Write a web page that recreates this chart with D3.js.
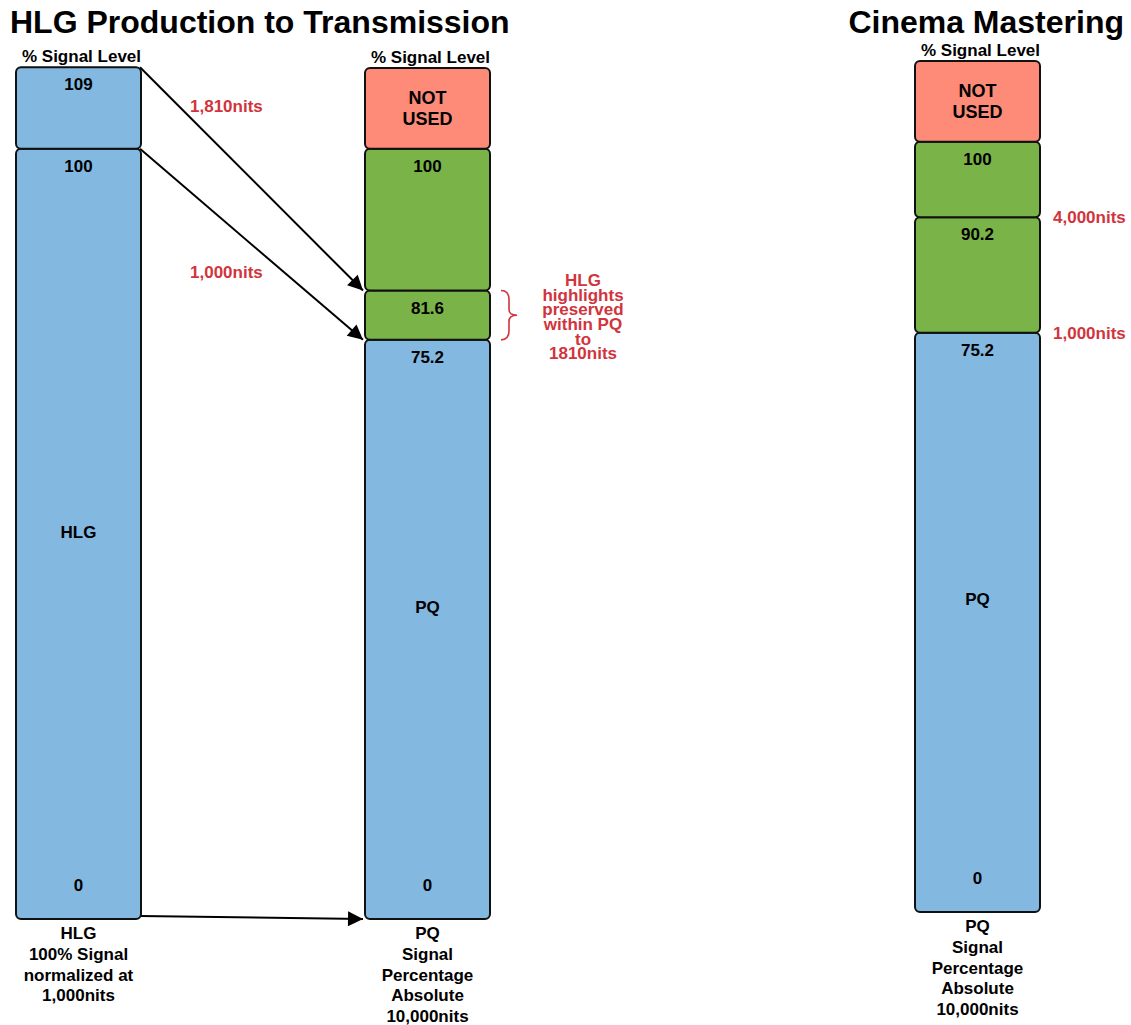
<!DOCTYPE html>
<html>
<head>
<meta charset="utf-8">
<script src="https://cdn.jsdelivr.net/npm/d3@7"></script>
<style>
  html, body { margin: 0; padding: 0; background: #fff; }
  svg { display: block; font-family: "Liberation Sans", Arial, sans-serif; font-weight: bold; }
</style>
</head>
<body>
<svg id="chart" width="1131" height="1025"></svg>
<script>
// ---------------- DATA ----------------
const titles = ["HLG Production to Transmission", "Cinema Mastering"];
const axisTitle = "% Signal Level";

// HLG column (segment edges in % signal; top edge is the box's upper limit)
const hlgEdges = [0, 100, 110.6];
const hlgTopLabels = ["100", "109"];
const hlgKinds = ["used", "used"];
const hlgName = "HLG";
const hlgNameLevel = 50.3;
const hlgFooter = ["HLG", "100% Signal", "normalized at", "1,000nits"];

// PQ transmission column
const pqEdges = [0, 75.2, 81.6, 100, 110.5];
const pqTopLabels = ["75.2", "81.6", "100", "NOT\nUSED"];
const pqKinds = ["used", "extra", "extra", "unused"];
const pqName = "PQ";
const pqNameLevel = 40.5;
const pqFooter = ["PQ", "Signal", "Percentage", "Absolute", "10,000nits"];

// Cinema mastering column
const cinemaEdges = [0, 75.2, 90.2, 100, 110.5];
const cinemaTopLabels = ["75.2", "90.2", "100", "NOT\nUSED"];
const cinemaKinds = ["used", "extra", "extra", "unused"];
const cinemaName = "PQ";
const cinemaNameLevel = 40.6;
const cinemaFooter = ["PQ", "Signal", "Percentage", "Absolute", "10,000nits"];

// Mapping arrows HLG -> PQ (from HLG level edge to PQ level)
const arrowFrom = [110.6, 100, 0];
const arrowTo = [81.6, 75.2, 0];
const arrowNotes = ["1,810nits", "1,000nits", ""];
const arrowNoteLevels = [105.6, 84.0, null];

// Annotation brace on PQ column
const braceRange = [75.2, 81.6];
const braceText = ["HLG", "highlights", "preserved", "within PQ", "to", "1810nits"];

// Cinema annotations
const cinemaNotes = ["4,000nits", "1,000nits"];
const cinemaNoteLevels = [90.2, 75.2];

// ---------------- LAYOUT / STYLE ----------------
const colW = 125;
const fs = 17;
const fills = { used: "#83b8e0", extra: "#7ab347", unused: "#fe8a78" };
const red = "#d1343c";
const svg = d3.select("#chart");

const yA = d3.scaleLinear().domain([0, 110.5]).range([919, 68]);
const yC = d3.scaleLinear().domain([0, 110.5]).range([912, 61]);

const defs = svg.append("defs");
defs.append("marker")
  .attr("id", "arrowhead")
  .attr("viewBox", "0 0 10 10")
  .attr("refX", 10).attr("refY", 5)
  .attr("markerWidth", 8.5).attr("markerHeight", 7.5)
  .attr("markerUnits", "strokeWidth")
  .attr("orient", "auto")
  .append("path").attr("d", "M0,0 L10,5 L0,10 Z").attr("fill", "#000");

function drawColumn(x0, y, edges, labels, kinds, name, nameLevel, footer) {
  const g = svg.append("g");
  const segs = labels.map((l, i) => ({ lo: edges[i], hi: edges[i + 1], label: l, kind: kinds[i] }));
  g.selectAll("rect.seg").data(segs).enter().append("rect")
    .attr("class", "seg")
    .attr("x", x0).attr("width", colW)
    .attr("y", d => y(d.hi))
    .attr("height", d => y(d.lo) - y(d.hi))
    .attr("rx", 5).attr("ry", 5)
    .attr("fill", d => fills[d.kind])
    .attr("stroke", "#111").attr("stroke-width", 2);

  const cx = x0 + colW / 2;
  segs.forEach(d => {
    const lines = d.label.split("\n");
    if (lines.length > 1) {
      const mid = (y(d.hi) + y(d.lo)) / 2;
      lines.forEach((t, k) => {
        g.append("text").attr("x", cx).attr("y", mid + (k - (lines.length - 1) / 2) * 20.5)
          .attr("dy", "0.35em").attr("text-anchor", "middle")
          .attr("font-size", 18).attr("fill", "#000").text(t);
      });
    } else {
      g.append("text").attr("x", cx).attr("y", y(d.hi) + 17)
        .attr("dy", "0.35em").attr("text-anchor", "middle")
        .attr("font-size", fs).attr("fill", "#000").text(d.label);
    }
  });
  g.append("text").attr("x", cx).attr("y", y(0) - 34).attr("dy", "0.35em")
    .attr("text-anchor", "middle").attr("font-size", fs).text("0");
  g.append("text").attr("x", cx).attr("y", y(nameLevel)).attr("dy", "0.35em")
    .attr("text-anchor", "middle").attr("font-size", fs).text(name);
  g.append("text").attr("x", cx + 3).attr("y", y(edges[edges.length - 1]) - 5)
    .attr("text-anchor", "middle").attr("font-size", fs).text(axisTitle);
  footer.forEach((t, k) => {
    g.append("text").attr("x", cx).attr("y", y(0) + 20 + k * 20.8)
      .attr("text-anchor", "middle").attr("font-size", fs).text(t);
  });
}

// Titles
svg.append("text").attr("x", 10).attr("y", 33).attr("font-size", 32).text(titles[0]);
svg.append("text").attr("x", 1124).attr("y", 33).attr("text-anchor", "end").attr("font-size", 32).text(titles[1]);

const xHLG = 16, xPQ = 365, xCin = 915;

// Arrows
arrowFrom.forEach((f, i) => {
  const y1 = f === 0 ? yA(0) - 3 : yA(f);
  const y2 = yA(arrowTo[i]);
  svg.append("line")
    .attr("x1", xHLG + colW - 1).attr("y1", y1)
    .attr("x2", xPQ - 2).attr("y2", y2)
    .attr("stroke", "#000").attr("stroke-width", 2)
    .attr("marker-end", "url(#arrowhead)");
  if (arrowNotes[i]) {
    svg.append("text").attr("x", 190).attr("y", yA(arrowNoteLevels[i])).attr("dy", "0.35em")
      .attr("font-size", fs).attr("fill", red).text(arrowNotes[i]);
  }
});

drawColumn(xHLG, yA, hlgEdges, hlgTopLabels, hlgKinds, hlgName, hlgNameLevel, hlgFooter);
drawColumn(xPQ, yA, pqEdges, pqTopLabels, pqKinds, pqName, pqNameLevel, pqFooter);
drawColumn(xCin, yC, cinemaEdges, cinemaTopLabels, cinemaKinds, cinemaName, cinemaNameLevel, cinemaFooter);

// Brace
const bt = yA(braceRange[1]), bb = yA(braceRange[0]), bm = (bt + bb) / 2;
const bx = 501;
svg.append("path")
  .attr("d", `M${bx},${bt} Q${bx + 8},${bt} ${bx + 8},${bt + 9} L${bx + 8},${bm - 6} Q${bx + 8},${bm} ${bx + 16},${bm}
              Q${bx + 8},${bm} ${bx + 8},${bm + 6} L${bx + 8},${bb - 9} Q${bx + 8},${bb} ${bx},${bb}`)
  .attr("fill", "none").attr("stroke", red).attr("stroke-width", 1.6);
const bText = svg.append("text").attr("text-anchor", "middle").attr("font-size", 17).attr("fill", red);
braceText.forEach((t, k) => {
  bText.append("tspan").attr("x", 583).attr("y", bm - 35 + k * 14.6).attr("dy", "0.35em").text(t);
});

// Cinema notes
cinemaNotes.forEach((t, i) => {
  svg.append("text").attr("x", 1053).attr("y", yC(cinemaNoteLevels[i])).attr("dy", "0.35em")
    .attr("font-size", fs).attr("fill", red).text(t);
});
</script>
</body>
</html>
